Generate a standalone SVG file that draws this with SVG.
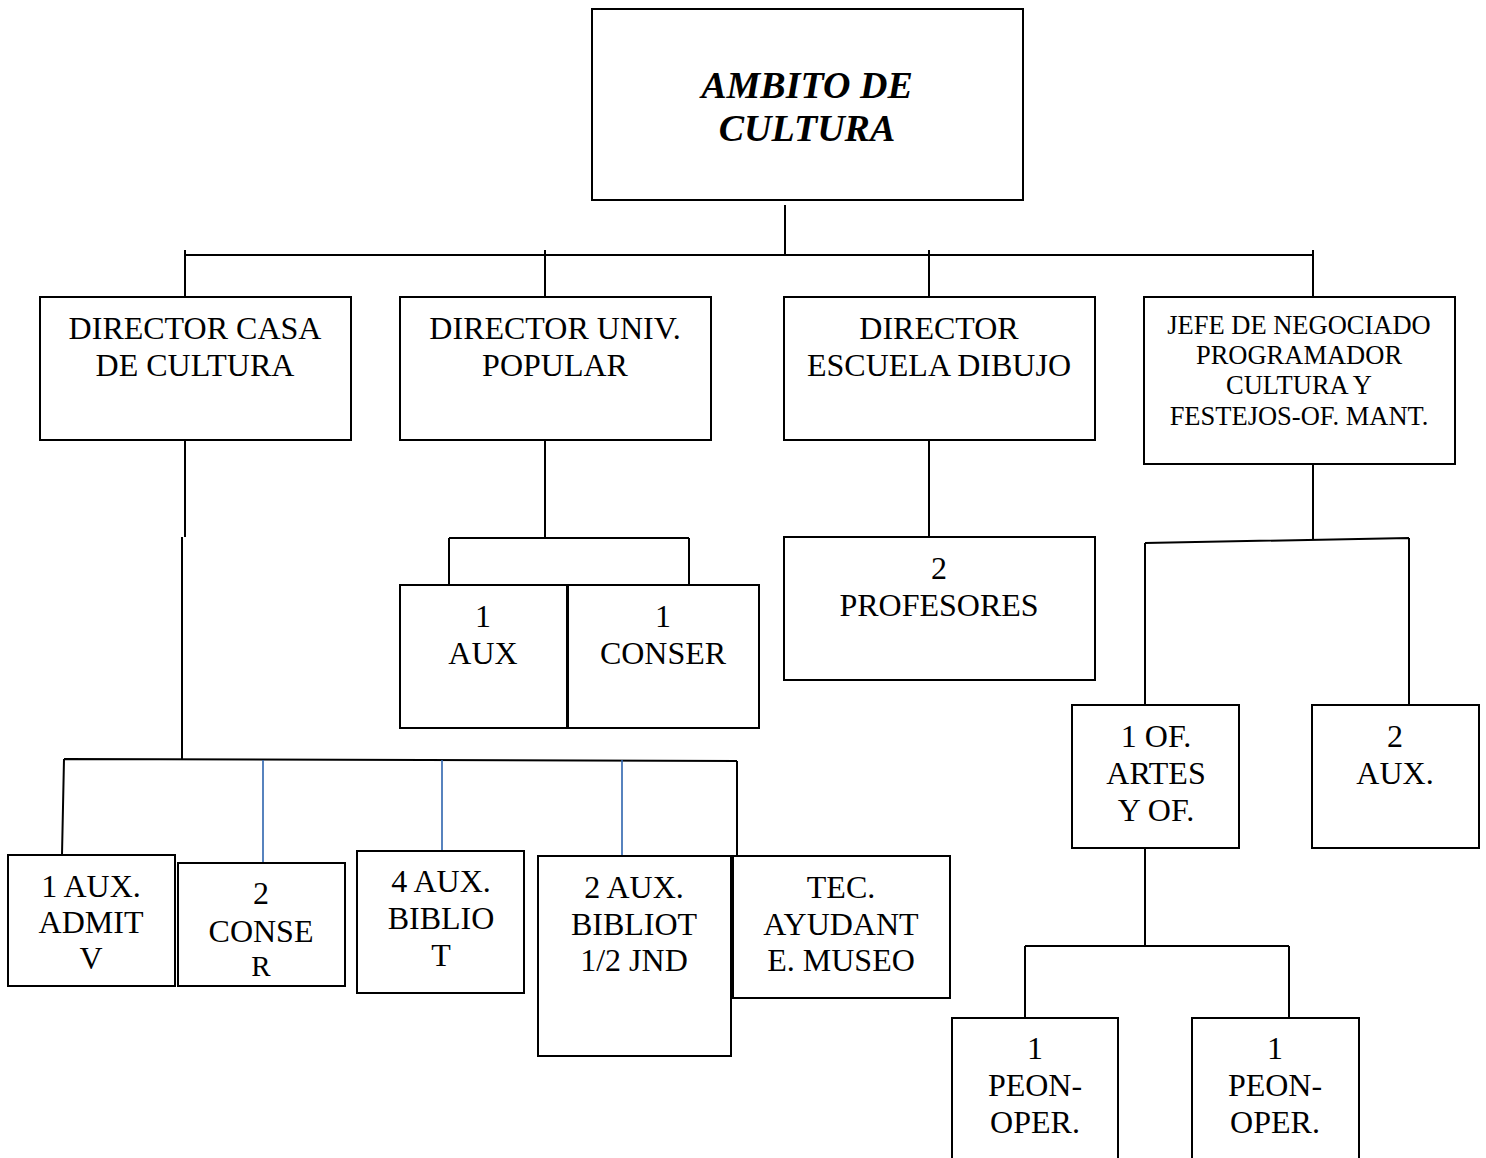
<svg xmlns="http://www.w3.org/2000/svg" width="1486" height="1158" viewBox="0 0 1486 1158">
<style>
.box{fill:#fff;stroke:#000;stroke-width:2}
.t{font-family:"Liberation Serif","Times New Roman",serif;font-size:32px;fill:#000;text-anchor:middle}
.s{font-size:26.5px}
.title{font-size:38px;font-weight:bold;font-style:italic}
.c{fill:none;stroke:#000;stroke-width:2}
.b{fill:none;stroke:#2E64AE;stroke-width:1.6}
</style>
<rect width="1486" height="1158" fill="#fff"/>
<g id="connectors">
<path class="c" d="M785 205V255M185 255H1313M185 250V297M545 250V297M929 250V297M1313 250V297"/>
<path class="c" d="M185 440V537M182 537V759M64 759L737 761M64 759L62 855M737 761V857"/>
<path class="b" d="M263 760V863M442 760V851M622 760V856"/>
<path class="c" d="M545 440V538M449 538H689M449 538V585M689 538V585"/>
<path class="c" d="M929 440V537"/>
<path class="c" d="M1313 464V540M1145 543L1409 538M1145 543V711M1409 538V705"/>
<path class="c" d="M1145 848V946M1025 946H1289M1025 946V1018M1289 946V1018"/>
</g>
<g id="ambito"><rect class="box" x="592" y="9" width="431" height="191"/><text class="t title" x="807" y="98">AMBITO DE</text><text class="t title" x="807" y="141">CULTURA</text></g>
<g id="dir-casa"><rect class="box" x="40" y="297" width="311" height="143"/><text class="t" x="195" y="339">DIRECTOR CASA</text><text class="t" x="195" y="376">DE CULTURA</text></g>
<g id="dir-univ"><rect class="box" x="400" y="297" width="311" height="143"/><text class="t" x="555" y="339">DIRECTOR UNIV.</text><text class="t" x="555" y="376">POPULAR</text></g>
<g id="dir-escuela"><rect class="box" x="784" y="297" width="311" height="143"/><text class="t" x="939" y="339">DIRECTOR</text><text class="t" x="939" y="376">ESCUELA DIBUJO</text></g>
<g id="jefe"><rect class="box" x="1144" y="297" width="311" height="167"/><text class="t s" x="1299" y="334">JEFE DE NEGOCIADO</text><text class="t s" x="1299" y="364">PROGRAMADOR</text><text class="t s" x="1299" y="394">CULTURA Y</text><text class="t s" x="1299" y="425">FESTEJOS-OF. MANT.</text></g>
<g id="aux-univ"><rect class="box" x="400" y="585" width="167" height="143"/><text class="t" x="483" y="627">1</text><text class="t" x="483" y="664">AUX</text></g>
<g id="conser-univ"><rect class="box" x="568" y="585" width="191" height="143"/><text class="t" x="663" y="627">1</text><text class="t" x="663" y="664">CONSER</text></g>
<g id="profesores"><rect class="box" x="784" y="537" width="311" height="143"/><text class="t" x="939" y="579">2</text><text class="t" x="939" y="616">PROFESORES</text></g>
<g id="of-artes"><rect class="box" x="1072" y="705" width="167" height="143"/><text class="t" x="1156" y="747">1 OF.</text><text class="t" x="1156" y="784">ARTES</text><text class="t" x="1156" y="821">Y OF.</text></g>
<g id="aux-jefe"><rect class="box" x="1312" y="705" width="167" height="143"/><text class="t" x="1395" y="747">2</text><text class="t" x="1395" y="784">AUX.</text></g>
<g id="aux-admit"><rect class="box" x="8" y="855" width="167" height="131"/><text class="t" x="91" y="897">1 AUX.</text><text class="t" x="91" y="933">ADMIT</text><text class="t" x="91" y="969">V</text></g>
<g id="conser-casa"><rect class="box" x="178" y="863" width="167" height="123"/><text class="t" x="261" y="904">2</text><text class="t" x="261" y="942">CONSE</text><text class="t" x="261" y="976" style="font-size:29px">R</text></g>
<g id="aux-biblio"><rect class="box" x="357" y="851" width="167" height="142"/><text class="t" x="441" y="892">4 AUX.</text><text class="t" x="441" y="929">BIBLIO</text><text class="t" x="441" y="966">T</text></g>
<g id="aux-bibliot"><rect class="box" x="538" y="856" width="193" height="200"/><text class="t" x="634" y="898">2 AUX.</text><text class="t" x="634" y="935">BIBLIOT</text><text class="t" x="634" y="971">1/2 JND</text></g>
<g id="tec"><rect class="box" x="733" y="856" width="217" height="142"/><text class="t" x="841" y="898">TEC.</text><text class="t" x="841" y="935">AYUDANT</text><text class="t" x="841" y="971">E. MUSEO</text></g>
<g id="peon1"><rect class="box" x="952" y="1018" width="166" height="145"/><text class="t" x="1035" y="1059">1</text><text class="t" x="1035" y="1096">PEON-</text><text class="t" x="1035" y="1133">OPER.</text></g>
<g id="peon2"><rect class="box" x="1192" y="1018" width="167" height="145"/><text class="t" x="1275" y="1059">1</text><text class="t" x="1275" y="1096">PEON-</text><text class="t" x="1275" y="1133">OPER.</text></g>
</svg>
